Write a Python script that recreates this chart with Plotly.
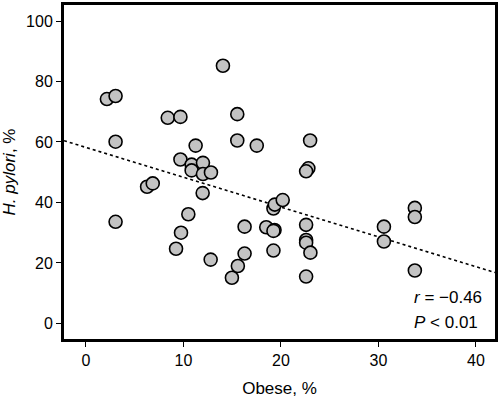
import plotly.graph_objects as go

obese = [2.15, 3.04, 3.04, 3.04, 6.27, 6.85, 8.39, 9.69, 9.24, 9.75, 10.5, 9.69,
         11.25, 10.84, 10.84, 12.0, 12.0, 11.97, 12.82, 12.79, 14.05, 15.52, 15.52,
         14.97, 15.58, 16.27, 16.27, 17.52, 18.49, 19.23, 19.37, 19.34, 19.23, 19.23,
         20.18, 22.58, 22.58, 22.58, 23.02, 22.58, 22.99, 22.81, 22.58, 30.56, 30.56,
         33.73, 33.73, 33.73]
hpylori = [74.2, 75.2, 60.1, 33.6, 45.2, 46.3, 68.0, 68.3, 24.7, 30.0, 36.1, 54.2,
           58.8, 52.5, 50.6, 53.1, 49.4, 43.1, 49.9, 21.1, 85.2, 69.2, 60.5,
           15.1, 19.0, 23.1, 32.0, 58.8, 31.8, 38.0, 39.3, 30.9, 30.6, 24.1,
           40.8, 32.6, 27.6, 26.7, 23.4, 15.5, 60.5, 51.3, 50.3, 32.0, 27.1,
           38.2, 35.2, 17.5]

trend_intercept = 58.2
trend_slope = -0.986
x_range = [-2.25, 41.95]
y_range = [-5.15, 105.3]
x_ticks = [0, 10, 20, 30, 40]
y_ticks = [0, 20, 40, 60, 80, 100]

font = "Liberation Sans, Arial, sans-serif"

fig = go.Figure()
fig.add_trace(go.Scatter(
    x=x_range,
    y=[trend_intercept + trend_slope * v for v in x_range],
    mode="lines",
    line=dict(color="black", width=1.6, dash="dot"),
    hoverinfo="skip", showlegend=False,
))
fig.add_trace(go.Scatter(
    x=obese, y=hpylori, mode="markers",
    marker=dict(size=13, color="#c3c3c3", line=dict(color="black", width=1.6)),
    showlegend=False,
))

axis_common = dict(
    showgrid=False, zeroline=False, showline=True, linecolor="black", linewidth=3,
    mirror=True, ticks="outside", ticklen=5, tickwidth=1.2, tickcolor="black",
    tickfont=dict(family=font, size=16, color="black"),
)
fig.update_xaxes(range=x_range, tickvals=x_ticks, title=dict(text="Obese, %", standoff=14,
                 font=dict(family=font, size=17, color="black")), **axis_common)
fig.update_yaxes(range=y_range, tickvals=y_ticks, title=dict(text="<i>H. pylori</i>, %", standoff=8,
                 font=dict(family=font, size=17, color="black")), **axis_common)

fig.add_annotation(x=0.808, y=0.1246, xref="paper", yref="paper", xanchor="left", yanchor="middle",
                   text="<i>r</i> = \u22120.46", showarrow=False,
                   font=dict(family=font, size=17, color="black"))
fig.add_annotation(x=0.808, y=0.0504, xref="paper", yref="paper", xanchor="left", yanchor="middle",
                   text="<i>P</i> < 0.01", showarrow=False,
                   font=dict(family=font, size=17, color="black"))

fig.update_layout(
    width=500, height=399, margin=dict(l=64, r=4, t=2, b=60),
    paper_bgcolor="white", plot_bgcolor="white",
)
fig.write_html("out.html", config={"displayModeBar": False},
               post_script="document.body.style.margin='0';document.body.style.overflow='hidden';")
